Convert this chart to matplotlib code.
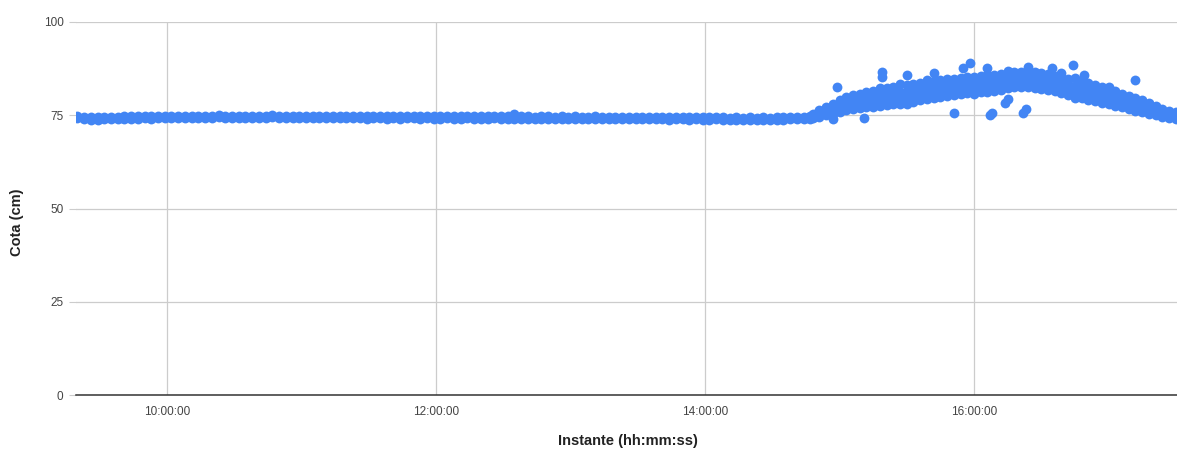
import matplotlib
matplotlib.use("Agg")
import matplotlib.pyplot as plt
from matplotlib.ticker import FixedLocator, FuncFormatter

plt.rcParams['font.family'] = ['Liberation Sans', 'DejaVu Sans']

AZUL = '#4285f4'

# leituras estaveis (de 3 em 3 min): bordo superior e inferior da faixa
instante_estavel = [
    "09:20", "09:23", "09:26", "09:29", "09:32", "09:35", "09:38", "09:41", "09:44", "09:47", "09:50", "09:53", "09:56", "09:59",
    "10:02", "10:05", "10:08", "10:11", "10:14", "10:17", "10:20", "10:23", "10:26", "10:29",
    "10:32", "10:35", "10:38", "10:41", "10:44", "10:47", "10:50", "10:53", "10:56", "10:59",
    "11:02", "11:05", "11:08", "11:11", "11:14", "11:17", "11:20", "11:23", "11:26", "11:29",
    "11:32", "11:35", "11:38", "11:41", "11:44", "11:47", "11:50", "11:53", "11:56", "11:59",
    "12:02", "12:05", "12:08", "12:11", "12:14", "12:17", "12:20", "12:23", "12:26", "12:29",
    "12:32", "12:35", "12:38", "12:41", "12:44", "12:47", "12:50", "12:53", "12:56", "12:59",
    "13:02", "13:05", "13:08", "13:11", "13:14", "13:17", "13:20", "13:23", "13:26", "13:29",
    "13:32", "13:35", "13:38", "13:41", "13:44", "13:47", "13:50", "13:53", "13:56", "13:59",
    "14:02", "14:05", "14:08", "14:11", "14:14", "14:17", "14:20", "14:23", "14:26", "14:29",
    "14:32", "14:35", "14:38", "14:41", "14:44", "14:47",
]
cota_estavel_alta = [
    74.9, 74.6, 74.4, 74.4, 74.5, 74.6, 74.6, 74.7, 74.7, 74.7, 74.8, 74.7, 74.8, 74.8,
    74.8, 74.9, 74.8, 74.9, 74.9, 74.8, 74.9, 75.0, 74.9, 74.9,
    74.8, 74.9, 74.9, 74.8, 74.9, 75.0, 74.9, 74.8, 74.9, 74.9,
    74.9, 74.8, 74.9, 74.8, 74.9, 74.8, 74.8, 74.9, 74.8, 74.7,
    74.8, 74.8, 74.7, 74.8, 74.7, 74.8, 74.8, 74.7, 74.8, 74.7,
    74.7, 74.8, 74.7, 74.7, 74.8, 74.7, 74.7, 74.7, 74.8, 74.7,
    74.7, 75.3, 74.7, 74.7, 74.6, 74.7, 74.7, 74.6, 74.7, 74.6,
    74.7, 74.6, 74.6, 74.7, 74.6, 74.6, 74.5, 74.6, 74.6, 74.5,
    74.5, 74.6, 74.5, 74.5, 74.4, 74.5, 74.5, 74.4, 74.5, 74.4,
    74.4, 74.5, 74.4, 74.3, 74.4, 74.3, 74.4, 74.3, 74.4, 74.3,
    74.4, 74.4, 74.5, 74.5, 74.6, 74.7,
]
cota_estavel_baixa = [
    74.3, 74.0, 73.8, 73.8, 73.9, 74.0, 74.0, 74.1, 74.1, 74.1, 74.2, 74.1, 74.2, 74.2,
    74.2, 74.3, 74.2, 74.3, 74.3, 74.2, 74.3, 74.4, 74.3, 74.3,
    74.2, 74.3, 74.3, 74.2, 74.3, 74.4, 74.3, 74.2, 74.3, 74.3,
    74.3, 74.2, 74.3, 74.2, 74.3, 74.2, 74.2, 74.3, 74.2, 74.1,
    74.2, 74.2, 74.1, 74.2, 74.1, 74.2, 74.2, 74.1, 74.2, 74.1,
    74.1, 74.2, 74.1, 74.1, 74.2, 74.1, 74.1, 74.1, 74.2, 74.1,
    74.1, 74.0, 74.1, 74.1, 74.0, 74.1, 74.1, 74.0, 74.1, 74.0,
    74.1, 74.0, 74.0, 74.1, 74.0, 74.0, 73.9, 74.0, 74.0, 73.9,
    73.9, 74.0, 73.9, 73.9, 73.8, 73.9, 73.9, 73.8, 73.9, 73.8,
    73.8, 73.9, 73.8, 73.7, 73.8, 73.7, 73.8, 73.7, 73.8, 73.7,
    73.8, 73.8, 73.9, 73.9, 74.0, 74.1,
]

# subida da tarde (de 3 em 3 min): quatro faixas, de baixo para cima
instante_subida = [
    "14:48", "14:51", "14:54", "14:57",
    "15:00", "15:03", "15:06", "15:09", "15:12", "15:15", "15:18", "15:21", "15:24", "15:27",
    "15:30", "15:33", "15:36", "15:39", "15:42", "15:45", "15:48", "15:51", "15:54", "15:57",
    "16:00", "16:03", "16:06", "16:09", "16:12", "16:15", "16:18", "16:21", "16:24", "16:27",
    "16:30", "16:33", "16:36", "16:39", "16:42", "16:45", "16:48", "16:51", "16:54", "16:57",
    "17:00", "17:03", "17:06", "17:09", "17:12", "17:15", "17:18", "17:21", "17:24", "17:27", "17:30",
]
cota_baixa = [
    74.2, 74.6, 75.0, 75.4,
    76.0, 76.4, 76.7, 76.9, 77.1, 77.3, 77.5, 77.7, 77.9, 78.1,
    77.9, 78.6, 79.0, 79.3, 79.6, 79.9, 80.2, 80.4, 80.6, 80.9,
    80.6, 81.1, 81.3, 81.6, 81.9, 82.2, 82.5, 82.6, 82.6, 82.4,
    82.1, 81.8, 81.4, 80.9, 80.4, 79.5, 79.5, 79.1, 78.7, 78.3,
    77.9, 77.5, 77.1, 76.6, 76.2, 75.8, 75.4, 75.0, 74.6, 74.3, 74.1,
]
cota_meio_baixo = [
    74.6, 75.2, 75.8, 76.4,
    77.0, 77.4, 77.8, 78.1, 78.4, 78.7, 78.9, 79.2, 79.4, 79.7,
    80.0, 80.3, 80.6, 80.9, 81.1, 81.4, 81.6, 81.9, 82.1, 82.3,
    82.5, 82.7, 82.9, 83.2, 83.4, 83.7, 83.9, 84.0, 84.0, 83.9,
    83.6, 83.2, 82.8, 82.3, 81.9, 81.5, 81.1, 80.7, 80.2, 79.8,
    79.3, 78.9, 78.4, 77.9, 77.3, 76.9, 76.4, 75.9, 75.4, 75.0, 74.7,
]
cota_meio_alto = [
    75.0, 75.8, 76.5, 77.2,
    78.0, 78.5, 78.9, 79.3, 79.7, 80.1, 80.5, 80.7, 81.0, 81.3,
    81.6, 81.9, 82.2, 82.5, 82.7, 83.0, 83.2, 83.4, 83.7, 83.9,
    84.0, 84.3, 84.5, 84.7, 84.9, 85.1, 85.3, 85.4, 85.4, 85.2,
    85.0, 84.7, 84.2, 83.8, 83.4, 82.9, 82.6, 82.1, 81.7, 81.2,
    80.7, 80.1, 79.6, 79.0, 78.5, 77.9, 77.4, 76.7, 76.1, 75.6, 75.3,
]
cota_alta = [
    75.4, 76.4, 77.2, 78.1,
    79.2, 79.8, 80.3, 80.8, 81.2, 81.6, 82.4, 82.3, 82.6, 83.4,
    83.2, 83.4, 83.7, 84.5, 84.2, 84.4, 84.6, 84.8, 85.0, 85.2,
    85.3, 85.5, 85.7, 85.9, 86.1, 86.8, 86.5, 86.6, 87.0, 86.5,
    86.3, 86.0, 85.6, 85.2, 84.8, 84.9, 84.1, 83.6, 83.1, 82.6,
    82.5, 81.4, 80.8, 80.2, 79.6, 79.0, 78.4, 77.6, 76.8, 76.2, 75.8,
]

# pontos isolados
instante_isolado = [
    "14:57", "14:59", "15:11", "15:19", "15:19", "15:30", "15:42", "15:51", "15:55",
    "15:58", "16:06", "16:07", "16:08", "16:14", "16:15", "16:22", "16:23", "16:24", "16:35",
    "16:39", "16:44", "16:49", "17:12",
]
cota_isolada = [
    74.0, 82.6, 74.3, 86.6, 85.3, 85.8, 86.3, 75.6, 87.7,
    89.0, 87.7, 75.1, 75.6, 78.3, 79.4, 75.6, 76.7, 87.9, 87.7,
    86.3, 88.5, 85.8, 84.5,
]


def horas(lista):
    return [int(s[:2]) + int(s[3:]) / 60 for s in lista]


fig = plt.figure(figsize=(11.77, 4.51), dpi=100)
ax = fig.add_axes([76 / 1177, 1 - 395 / 451, 1 - 76 / 1177, (395 - 22) / 451])

kw = dict(s=50, color=AZUL, linewidths=0, zorder=3)
t_est = horas(instante_estavel)
ax.scatter(t_est, cota_estavel_baixa, **kw)
ax.scatter(t_est, cota_estavel_alta, **kw)
t_sub = horas(instante_subida)
for serie in [cota_baixa, cota_meio_baixo, cota_meio_alto, cota_alta]:
    ax.scatter(t_sub, serie, **kw)
ax.scatter(horas(instante_isolado), cota_isolada, **kw)

ax.set_xlim(10 - 91 / 134.5, 16 + 203 / 134.5)
ax.set_ylim(0, 100)

ax.xaxis.set_major_locator(FixedLocator([10, 12, 14, 16]))
ax.xaxis.set_major_formatter(FuncFormatter(lambda v, p: "%02d:00:00" % round(v)))
ax.yaxis.set_major_locator(FixedLocator([0, 25, 50, 75, 100]))

ax.grid(True, color='#cccccc', linewidth=0.9, zorder=0)
ax.set_axisbelow(True)
for lado in ['top', 'right', 'left']:
    ax.spines[lado].set_visible(False)
ax.spines['bottom'].set_color('#333333')
ax.spines['bottom'].set_linewidth(1.1)
ax.spines['bottom'].set_zorder(4)

ax.tick_params(axis='x', length=0, pad=8, labelsize=8.5, labelcolor='#444444')
ax.tick_params(axis='y', length=5, color='#cccccc', pad=4, labelsize=8.5, labelcolor='#444444')

fig.text(628 / 1177, 1 - 441 / 451, 'Instante (hh:mm:ss)', ha='center', va='center',
         fontsize=10.5, fontweight='bold', color='#222222')
fig.text(17 / 1177, 1 - 222 / 451, 'Cota (cm)', ha='center', va='center', rotation=90,
         fontsize=10.5, fontweight='bold', color='#222222')

fig.savefig('out.png', dpi=100)
